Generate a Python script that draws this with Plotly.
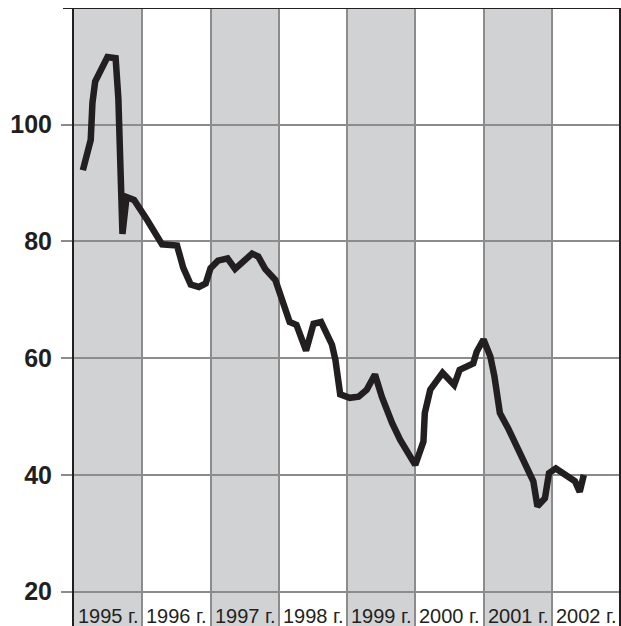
import plotly.graph_objects as go

# Data (decimal years, index values)
x_years = [1995.13, 1995.245, 1995.27, 1995.31, 1995.49, 1995.61, 1995.65, 1995.68, 1995.71,
           1995.77, 1995.88, 1996.07, 1996.29, 1996.51, 1996.60, 1996.71, 1996.83, 1996.93,
           1997.00, 1997.11, 1997.25, 1997.36, 1997.49, 1997.61, 1997.70, 1997.80, 1997.95,
           1998.16, 1998.26, 1998.40, 1998.51, 1998.62, 1998.78, 1998.83, 1998.90, 1999.04,
           1999.17, 1999.29, 1999.41, 1999.51, 1999.66, 1999.78, 2000.00, 2000.12, 2000.14,
           2000.22, 2000.40, 2000.57, 2000.65, 2000.85, 2000.90, 2001.00, 2001.10, 2001.16,
           2001.24, 2001.36, 2001.73, 2001.79, 2001.90, 2001.96, 2002.06, 2002.22, 2002.34,
           2002.41, 2002.47]
values = [92.2, 97.4, 103.7, 107.4, 111.6, 111.4, 104.5, 93.0, 81.3,
          87.6, 87.1, 83.7, 79.5, 79.3, 75.5, 72.6, 72.2, 72.8,
          75.4, 76.7, 77.1, 75.3, 76.7, 77.9, 77.4, 75.3, 73.4,
          66.2, 65.7, 61.3, 65.9, 66.2, 62.3, 59.7, 53.8, 53.2,
          53.4, 54.6, 57.2, 53.4, 48.9, 46.0, 41.7, 45.7, 50.6,
          54.6, 57.5, 55.4, 58.0, 59.1, 61.1, 63.2, 60.3, 56.9,
          50.6, 48.0, 38.9, 34.6, 36.0, 40.3, 41.1, 40.0, 38.9,
          37.1, 40.0]

years = [1995, 1996, 1997, 1998, 1999, 2000, 2001, 2002]
year_labels = ["1995 г.", "1996 г.", "1997 г.", "1998 г.", "1999 г.", "2000 г.", "2001 г.", "2002 г."]
y_ticks = [20, 40, 60, 80, 100]

DARK = "#231f20"
GRID = "#8c8c8c"
BAND = "#d1d2d4"

fig = go.Figure()
fig.add_trace(go.Scatter(x=x_years, y=values, mode="lines",
                         line=dict(color=DARK, width=6.5), hoverinfo="skip"))

shapes = []
for i, yr in enumerate(years):
    if i % 2 == 0:
        shapes.append(dict(type="rect", xref="x", yref="paper", x0=yr, x1=yr + 1, y0=0, y1=1,
                           fillcolor=BAND, line=dict(width=0), layer="below"))
# top line (extends left like the ticks)
shapes.append(dict(type="line", xref="paper", yref="y", x0=-11 / 546, x1=1, y0=120, y1=120,
                   line=dict(color=DARK, width=2)))
# right border
shapes.append(dict(type="line", xref="paper", yref="paper", x0=1, x1=1, y0=0, y1=1,
                   line=dict(color=DARK, width=2)))

annotations = []
for yr, lab in zip(years, year_labels):
    annotations.append(dict(x=yr + 0.5, y=15.8, xref="x", yref="y", text=lab, showarrow=False,
                            font=dict(family="Liberation Sans", size=20, color=DARK),
                            xanchor="center", yanchor="middle"))

fig.update_layout(
    width=621, height=626,
    margin=dict(l=74, r=1, t=8, b=0),
    paper_bgcolor="white", plot_bgcolor="white",
    showlegend=False,
    shapes=shapes, annotations=annotations,
    xaxis=dict(range=[1995, 2003], tickvals=years[1:], showticklabels=False,
               showgrid=True, gridcolor=GRID, gridwidth=1.5, zeroline=False,
               showline=False, ticks=""),
    yaxis=dict(range=[14.1, 120], tickvals=y_ticks, showgrid=True, gridcolor=GRID,
               gridwidth=1.5, zeroline=False, showline=True, linecolor=DARK, linewidth=2,
               ticks="outside", ticklen=11, tickwidth=1.5, tickcolor=GRID,
               ticklabelstandoff=4,
               tickfont=dict(family="Liberation Sans", size=25, color=DARK, weight="bold")),
)

fig.write_html("out.html", config={"displayModeBar": False},
               post_script="document.body.style.margin='0px';document.body.style.overflow='hidden';")
